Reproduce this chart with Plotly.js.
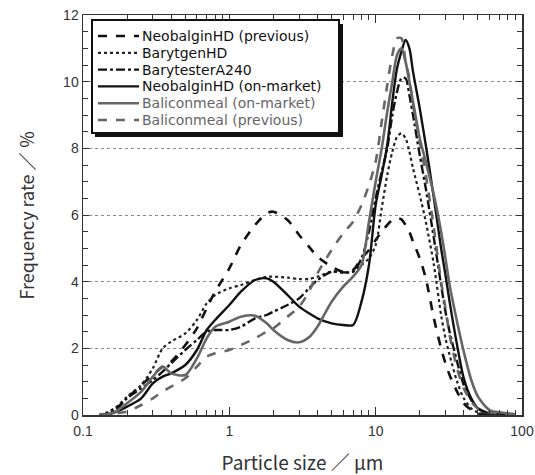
<!DOCTYPE html>
<html>
<head>
<meta charset="utf-8">
<script src="https://cdn.plot.ly/plotly-3.0.1.min.js"></script>
<style>html,body{margin:0;padding:0;background:#fff;}#chart{width:535px;height:475px;}</style>
</head>
<body>
<div id="chart"></div>
<script>
// Particle size (µm)
const sizes = [0.13,0.15,0.17,0.2,0.25,0.3,0.35,0.4,0.5,0.6,0.7,0.8,1,1.2,1.5,1.8,2,2.5,3,3.5,4,5,6,7,8,9,10,11,12,13,14,15,16,17,18,20,22,25,28,30,32,36,40,45,50,60,70,80,90];

const neobalginPrev = [0,0.05,0.2,0.5,0.9,1.2,1.45,1.6,2.1,2.6,3.2,3.7,4.4,5.1,5.7,6.05,6.1,5.85,5.4,5.05,4.75,4.45,4.3,4.35,4.7,4.95,5.25,5.5,5.7,5.85,5.9,5.87,5.7,5.5,5.2,4.7,4.1,2.9,2.0,1.55,1.2,0.7,0.35,0.15,0.05,0,0,0,0];
const barytgen = [0,0.1,0.25,0.55,0.9,1.4,2.0,2.2,2.45,2.85,3.35,3.6,3.8,3.9,4.05,4.15,4.15,4.12,4.08,4.08,4.15,4.3,4.27,4.3,4.5,4.7,5.1,6.2,7.2,7.9,8.35,8.45,8.3,7.9,7.4,6.6,5.8,4.5,3.0,2.3,1.8,1.0,0.5,0.2,0.08,0.02,0,0,0];
const barytester = [0,0.05,0.2,0.5,0.8,1.05,1.3,1.55,1.95,2.25,2.5,2.55,2.55,2.65,2.9,3.0,3.1,3.3,3.5,3.8,4.05,4.3,4.28,4.3,4.7,5.5,6.5,7.3,8.0,9.0,9.7,10.1,10.1,9.6,9.0,7.8,6.8,5.3,3.9,3.1,2.5,1.6,0.9,0.45,0.2,0.05,0,0,0];
const neobalginOn = [0,0.02,0.1,0.25,0.5,0.95,1.15,1.25,1.5,1.95,2.55,2.85,3.3,3.7,4.05,4.1,4.0,3.6,3.25,3.05,2.9,2.75,2.7,2.7,3.4,4.5,6.3,7.2,8.1,9.4,10.4,10.9,11.25,11.0,10.3,9.2,8.1,6.5,5.0,4.2,3.4,2.1,1.1,0.5,0.2,0.05,0.02,0,0];
const baliconOn = [0,0.03,0.12,0.35,0.7,1.15,1.45,1.25,1.2,1.7,2.3,2.65,2.8,2.95,2.98,2.75,2.55,2.25,2.18,2.33,2.65,3.4,3.85,4.15,4.5,5.8,7.0,8.0,9.1,10.0,10.8,11.0,10.6,10.0,9.4,8.3,7.6,6.6,5.5,4.7,3.9,2.8,1.9,1.05,0.55,0.15,0.08,0.05,0.02];
const baliconPrev = [0,0.02,0.05,0.1,0.3,0.5,0.7,0.85,1.1,1.45,1.75,1.85,1.95,2.1,2.3,2.5,2.6,2.95,3.25,3.7,4.25,4.95,5.45,5.8,6.3,6.9,7.6,8.8,9.9,10.8,11.3,11.3,10.6,10.1,9.3,8.2,7.2,5.6,4.0,3.2,2.4,1.4,0.8,0.4,0.2,0.08,0.05,0.03,0.01];

const seriesNames = ['NeobalginHD (previous)','BarytgenHD','BarytesterA240','NeobalginHD (on-market)','Baliconmeal (on-market)','Baliconmeal (previous)'];
const seriesValues = [neobalginPrev, barytgen, barytester, neobalginOn, baliconOn, baliconPrev];
const seriesStyles = [
  {color:'#111111', dash:'dash', width:2.6},
  {color:'#222222', dash:'dot', width:2.2},
  {color:'#111111', dash:'dashdot', width:2.4},
  {color:'#111111', dash:'solid', width:2.4},
  {color:'#666666', dash:'solid', width:2.6},
  {color:'#666666', dash:'dash', width:2.6}
];
const xTickVals = [0.1,1,10,100];
const xTickText = ['0.1','1','10','100'];

const traces = seriesNames.map((n,i)=>({
  x: sizes, y: seriesValues[i], name: n, type:'scatter', mode:'lines', showlegend:false,
  line:{color:seriesStyles[i].color, dash:seriesStyles[i].dash, width:seriesStyles[i].width, shape:'spline', smoothing:0.8}
}));

const tickFont = {family:'Liberation Sans, Arial, sans-serif', size:14, color:'#333'};
const L = 83, R = 13, T = 15, B = 60, W = 535, H = 475;
const pw = W-L-R, ph = H-T-B;
function px2x(p){return (p-L)/pw;}
function py2y(p){return (H-B-p)/ph;}

// Hand-drawn legend box (with drop shadow) in paper coordinates
const shapes = [
  {type:'rect', xref:'paper', yref:'paper', x0:px2x(95), x1:px2x(343), y0:py2y(137), y1:py2y(24), fillcolor:'#111', line:{width:0}, layer:'above'},
  {type:'rect', xref:'paper', yref:'paper', x0:px2x(92), x1:px2x(339), y0:py2y(133), y1:py2y(20), fillcolor:'#fff', line:{color:'#111', width:2}, layer:'above'}
];
const annotations = [];
const rowY0 = 36, rowDY = 16.8;
seriesNames.forEach((n,i)=>{
  const yy = py2y(rowY0 + i*rowDY);
  shapes.push({type:'line', xref:'paper', yref:'paper', x0:px2x(98), x1:px2x(139), y0:yy, y1:yy,
    line:{color:seriesStyles[i].color, dash:seriesStyles[i].dash, width:seriesStyles[i].width}, layer:'above'});
  annotations.push({xref:'paper', yref:'paper', x:px2x(141), y:yy, xanchor:'left', yanchor:'middle',
    text:n, showarrow:false, borderpad:0,
    font:{family:'DejaVu Sans, sans-serif', size:14, color: i>=4 ? '#666' : '#111'}});
});

const layout = {
  width:W, height:H,
  margin:{l:L, r:R, t:T, b:B},
  paper_bgcolor:'#fff', plot_bgcolor:'#fff',
  showlegend:false,
  xaxis:{type:'log', range:[-1,2], tickvals:xTickVals, ticktext:xTickText,
    ticks:'inside', ticklen:8, tickwidth:1, tickcolor:'#333', ticklabelstandoff:3,
    minor:{ticks:'inside', ticklen:5, tickcolor:'#333', dtick:'D1', showgrid:false},
    showline:true, linecolor:'#333', linewidth:1.5, mirror:'allticks',
    showgrid:false, zeroline:false, tickfont:tickFont,
    title:{text:'Particle size ／ μm', font:{family:'Noto Sans CJK JP, sans-serif', size:19, color:'#333'}, standoff:18}},
  yaxis:{range:[0,12], tickvals:[0,2,4,6,8,10,12],
    ticks:'inside', ticklen:6, tickwidth:1, tickcolor:'#333',
    minor:{ticks:'inside', ticklen:5, tickcolor:'#333', dtick:0.5, showgrid:false},
    showline:true, linecolor:'#333', linewidth:1.5, mirror:'allticks',
    showgrid:true, gridcolor:'#888', griddash:'dot', gridwidth:1,
    zeroline:false, tickfont:tickFont,
    title:{text:'Frequency rate ／ ％', font:{family:'Noto Sans CJK JP, sans-serif', size:18, color:'#333'}, standoff:24}},
  shapes: shapes,
  annotations: annotations
};

Plotly.newPlot('chart', traces, layout, {displayModeBar:false, staticPlot:true});
</script>
</body>
</html>
